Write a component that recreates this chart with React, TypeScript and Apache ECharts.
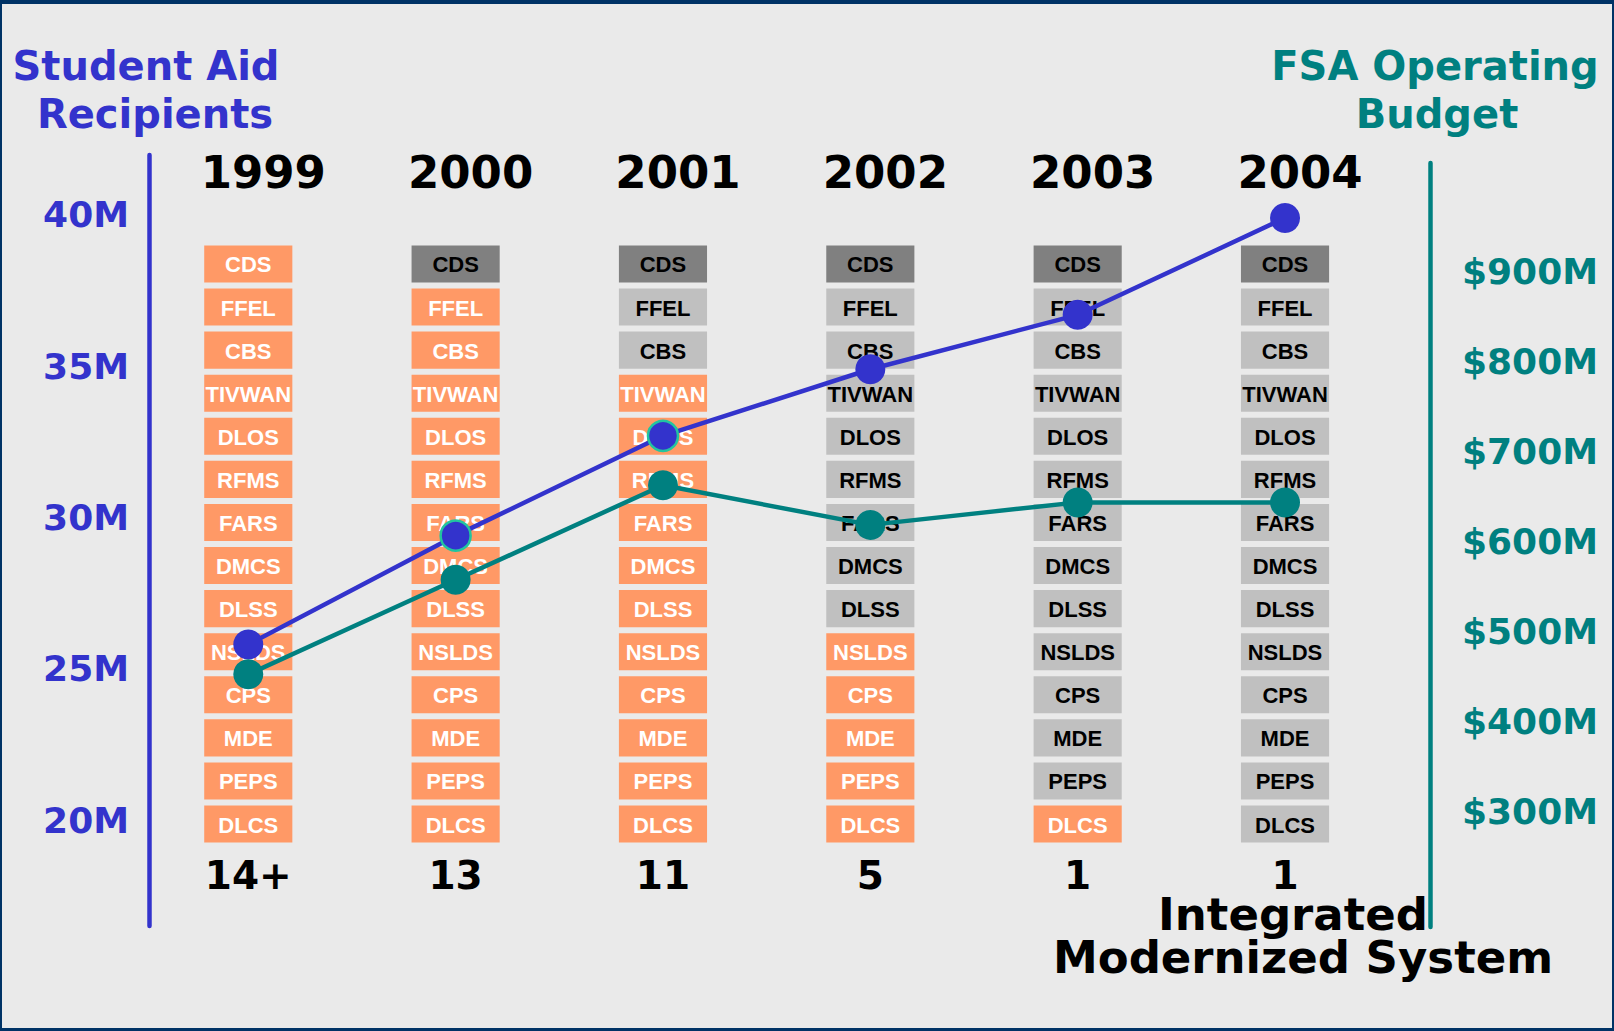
import React, { useEffect, useRef } from "react";
import * as echarts from "echarts";

// ---- data ----
const years = ["1999", "2000", "2001", "2002", "2003", "2004"];
const systemCounts = ["14+", "13", "11", "5", "1", "1"];
const systems = [
  "CDS", "FFEL", "CBS", "TIVWAN", "DLOS", "RFMS", "FARS",
  "DMCS", "DLSS", "NSLDS", "CPS", "MDE", "PEPS", "DLCS",
];
// Student aid recipients (millions)
const recipientsM = [25.8, 29.4, 32.7, 34.9, 36.7, 39.9];
// FSA operating budget ($ millions)
const budgetM = [453, 558, 663, 619, 644, 644];
const recipientTicks = [20, 25, 30, 35, 40];
const budgetTicks = [300, 400, 500, 600, 700, 800, 900];
// per-year status of each system: L = legacy (running), R = replaced, D = CDS (retired)
const status1999 = "LLLLLLLLLLLLLL";
const status2000 = "DLLLLLLLLLLLLL";
const status2001 = "DRRLLLLLLLLLLL";
const status2002 = "DRRRRRRRRLLLLL";
const status2003 = "DRRRRRRRRRRRRL";
const status2004 = "DRRRRRRRRRRRRR";
const statusByYear = [status1999, status2000, status2001, status2002, status2003, status2004];

// ---- style ----
const BLUE = "#3333cc";
const TEAL = "#008080";
const BG = "#eaeaea";
const NAVY = "#003366";
const FILL: Record<string, string> = { L: "#ff9966", R: "#c0c0c0", D: "#808080" };
const TEXTC: Record<string, string> = { L: "#ffffff", R: "#000000", D: "#000000" };
const FONT = "'DejaVu Sans', Verdana, sans-serif";
const BOXFONT = "'Liberation Sans', Arial, sans-serif";
const ringedPoints = [1, 2];

export default function App() {
  const ref = useRef<HTMLDivElement>(null);
  useEffect(() => {
    const chart = echarts.init(ref.current!, undefined, { renderer: "svg" });

    const cells: { x: number; y: number; code: string }[] = [];
    statusByYear.forEach((s, xi) => {
      systems.forEach((_, yi) => cells.push({ x: xi, y: yi, code: s[yi] }));
    });

    const gridX = { left: 144.6, right: 225.3 };

    const option: any = {
      animation: false,
      backgroundColor: BG,
      grid: [
        { ...gridX, top: 155, bottom: 105 },
        { ...gridX, top: 163, bottom: 104 },
        { ...gridX, top: 242.4, bottom: 185.4 },
      ],
      xAxis: [
        { type: "category", data: years, gridIndex: 0, show: false },
        { type: "category", data: years, gridIndex: 1, show: false },
        {
          type: "category", data: years, gridIndex: 2, position: "top",
          axisLine: { show: false }, axisTick: { show: false },
          axisLabel: {
            margin: 47, color: "#000", fontSize: 45, fontWeight: "bold",
            fontFamily: FONT, padding: [0, 0, 0, 30],
          },
        },
        {
          type: "category", data: systemCounts, gridIndex: 2, position: "bottom",
          axisLine: { show: false }, axisTick: { show: false },
          axisLabel: {
            margin: 14, lineHeight: 32, color: "#000", fontSize: 39,
            fontWeight: "bold", fontFamily: FONT,
          },
        },
      ],
      yAxis: [
        {
          type: "value", gridIndex: 0, position: "left", offset: -4.4,
          min: 16.496, max: 41.983,
          splitLine: { show: false }, axisTick: { show: false },
          axisLine: { show: true, lineStyle: { color: BLUE, width: 4.5, cap: "round" } },
          axisLabel: {
            customValues: recipientTicks, margin: 20, color: BLUE, fontSize: 36,
            fontWeight: "bold", fontFamily: FONT, formatter: (v: number) => `${v}M`,
          },
        },
        {
          type: "value", gridIndex: 1, position: "right", offset: 41.3,
          min: 172.2, max: 1021.1,
          splitLine: { show: false }, axisTick: { show: false },
          axisLine: { show: true, lineStyle: { color: TEAL, width: 4.5, cap: "round" } },
          axisLabel: {
            customValues: budgetTicks, margin: 32, color: TEAL, fontSize: 36,
            fontWeight: "bold", fontFamily: FONT, formatter: (v: number) => `$${v}M`,
          },
        },
        {
          type: "category", data: systems, gridIndex: 2, inverse: true, show: false,
        },
      ],
      series: [
        {
          type: "custom",
          xAxisIndex: 2,
          yAxisIndex: 2,
          z: 1,
          data: cells.map((c) => [c.x, c.y]),
          renderItem: (params: any, api: any) => {
            const cell = cells[params.dataIndex];
            const p = api.coord([api.value(0), api.value(1)]);
            const s = api.size([1, 1]);
            const w = s[0] * 0.425;
            const h = s[1] * 0.86;
            return {
              type: "group",
              children: [
                {
                  type: "rect",
                  shape: { x: p[0] - w / 2, y: p[1] - h / 2, width: w, height: h },
                  style: { fill: FILL[cell.code] },
                },
                {
                  type: "text",
                  style: {
                    text: systems[cell.y],
                    x: p[0],
                    y: p[1] + 1,
                    align: "center",
                    verticalAlign: "middle",
                    textAlign: "center",
                    textVerticalAlign: "middle",
                    fill: TEXTC[cell.code],
                    font: `bold 22px ${BOXFONT}`,
                  },
                },
              ],
            };
          },
        },
        {
          type: "line",
          name: "Student Aid Recipients",
          xAxisIndex: 0,
          yAxisIndex: 0,
          z: 5,
          data: recipientsM.map((v, i) =>
            ringedPoints.includes(i)
              ? { value: v, itemStyle: { borderColor: "#22c4a0", borderWidth: 2.5 } }
              : v
          ),
          symbol: "circle",
          symbolSize: 30,
          lineStyle: { color: BLUE, width: 4.5 },
          itemStyle: { color: BLUE },
        },
        {
          type: "line",
          name: "FSA Operating Budget",
          xAxisIndex: 1,
          yAxisIndex: 1,
          z: 6,
          data: budgetM,
          symbol: "circle",
          symbolSize: 30,
          lineStyle: { color: TEAL, width: 4.5 },
          itemStyle: { color: TEAL },
        },
      ],
      graphic: [
        { type: "rect", shape: { x: 0, y: 0, width: 1614, height: 4 }, style: { fill: NAVY } },
        { type: "rect", shape: { x: 0, y: 1028, width: 1614, height: 3 }, style: { fill: NAVY } },
        { type: "rect", shape: { x: 0, y: 0, width: 2, height: 1031 }, style: { fill: NAVY } },
        { type: "rect", shape: { x: 1612, y: 0, width: 2, height: 1031 }, style: { fill: NAVY } },
        {
          type: "text", x: 146, y: 66,
          style: { text: "Student Aid", fill: BLUE, font: `bold 40px ${FONT}`, textAlign: "center", textVerticalAlign: "middle" },
        },
        {
          type: "text", x: 155, y: 114,
          style: { text: "Recipients", fill: BLUE, font: `bold 40px ${FONT}`, textAlign: "center", textVerticalAlign: "middle" },
        },
        {
          type: "text", x: 1435, y: 66,
          style: { text: "FSA Operating", fill: TEAL, font: `bold 40px ${FONT}`, textAlign: "center", textVerticalAlign: "middle" },
        },
        {
          type: "text", x: 1437, y: 114,
          style: { text: "Budget", fill: TEAL, font: `bold 40px ${FONT}`, textAlign: "center", textVerticalAlign: "middle" },
        },
        {
          type: "text", x: 1293, y: 914,
          style: { text: "Integrated", fill: "#000", font: `bold 45px ${FONT}`, lineHeight: 40, textAlign: "center", textVerticalAlign: "middle" },
        },
        {
          type: "text", x: 1303, y: 957,
          style: { text: "Modernized System", fill: "#000", font: `bold 45px ${FONT}`, lineHeight: 40, textAlign: "center", textVerticalAlign: "middle" },
        },
      ],
    };
    chart.setOption(option);
    return () => chart.dispose();
  }, []);

  return (
    <div
      ref={ref}
      style={{ position: "fixed", left: 0, top: 0, width: 1614, height: 1031 }}
    />
  );
}
